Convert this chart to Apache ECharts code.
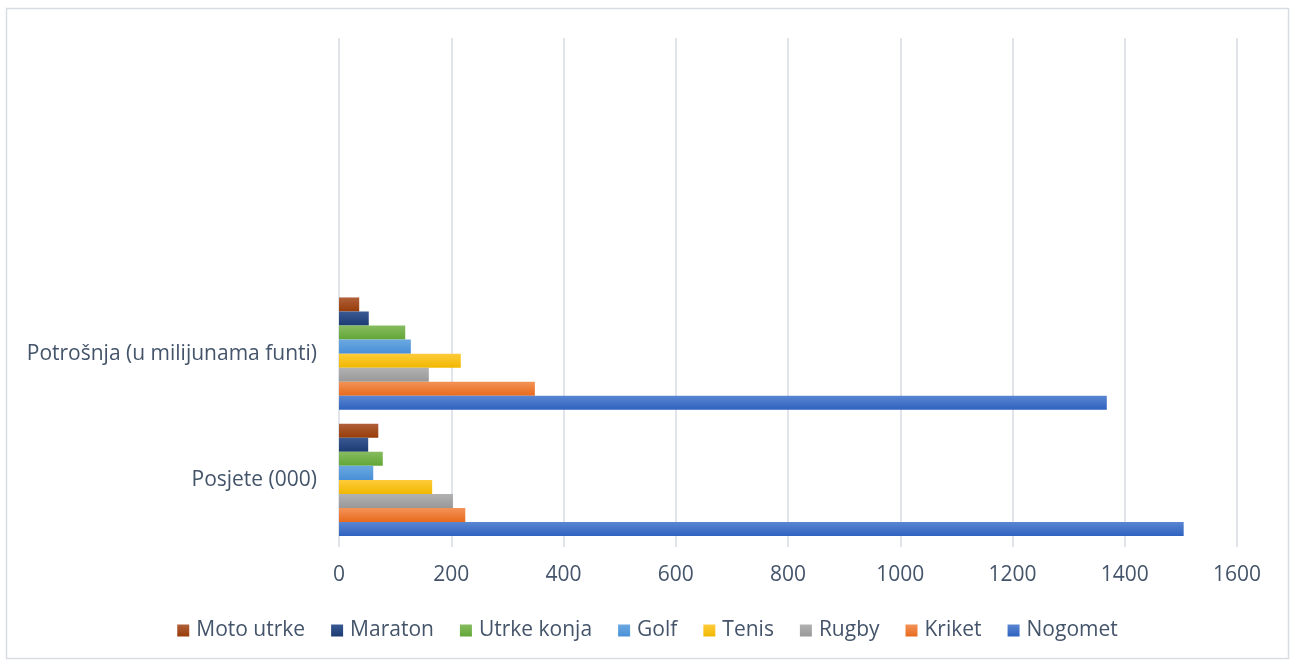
<!DOCTYPE html>
<html>
<head>
<meta charset="utf-8">
<script src="https://cdn.jsdelivr.net/npm/echarts@6/dist/echarts.min.js"></script>
<style>
html,body{margin:0;padding:0;background:#fff;}
#c{width:1295px;height:662px;}
</style>
</head>
<body>
<div id="c"></div>
<script>
// Categories (bottom to top); two empty slots at the top as in the reference
var categories = ['Posjete (000)', 'Potrošnja (u milijunama funti)', '', ' '];
// Series names (legend order, also top-to-bottom order inside each group)
var seriesNames = ['Moto utrke', 'Maraton', 'Utrke konja', 'Golf', 'Tenis', 'Rugby', 'Kriket', 'Nogomet'];
// Values per series: [Posjete, Potrošnja]
var motoUtrke = [70, 36];
var maraton = [52, 53];
var utrkeKonja = [78, 118];
var golf = [61, 128];
var tenis = [166, 217];
var rugby = [203, 160];
var kriket = [225, 349];
var nogomet = [1505, 1368];
var xTicks = {min: 0, max: 1600, interval: 200};

var colorsTop = {
  'Moto utrke': '#b0603a', 'Maraton': '#3a5a94', 'Utrke konja': '#86bc60', 'Golf': '#6aa8e0',
  'Tenis': '#ffcb3a', 'Rugby': '#b2b2b2', 'Kriket': '#f39358', 'Nogomet': '#5a86d2'
};
var colorsBot = {
  'Moto utrke': '#973c08', 'Maraton': '#1c3a72', 'Utrke konja': '#62a636', 'Golf': '#4a90d8',
  'Tenis': '#f0b800', 'Rugby': '#989898', 'Kriket': '#e86a1c', 'Nogomet': '#2f62bf'
};
var valuesByName = {
  'Moto utrke': motoUtrke, 'Maraton': maraton, 'Utrke konja': utrkeKonja, 'Golf': golf,
  'Tenis': tenis, 'Rugby': rugby, 'Kriket': kriket, 'Nogomet': nogomet
};

var textColor = '#44546a';
var gridColor = '#e1e4ea';
var font = 'Open Sans';

var series = seriesNames.map(function (name) {
  return {
    name: name,
    type: 'bar',
    data: valuesByName[name],
    barGap: '0%',
    barCategoryGap: '11%',
    itemStyle: {
      color: new echarts.graphic.LinearGradient(0, 0, 0, 1, [
        {offset: 0, color: colorsTop[name]},
        {offset: 1, color: colorsBot[name]}
      ])
    }
  };
});

var chart = echarts.init(document.getElementById('c'), null, {renderer: 'canvas'});
chart.setOption({
  animation: false,
  backgroundColor: '#fff',
  graphic: [{
    type: 'rect',
    shape: {x: 6.5, y: 8.5, width: 1282, height: 650},
    style: {fill: 'none', stroke: '#d9dde3', lineWidth: 1.5},
    silent: true
  }],
  grid: {left: 339, right: 58, top: 38, bottom: 119, containLabel: false},
  legend: {
    data: seriesNames,
    bottom: 16,
    left: 'center',
    icon: 'rect',
    itemWidth: 12,
    itemHeight: 12,
    itemGap: 26,
    textStyle: {color: textColor, fontSize: 21, fontFamily: font, padding: [0, 0, 0, 2]}
  },
  xAxis: {
    type: 'value',
    min: xTicks.min, max: xTicks.max, interval: xTicks.interval,
    axisLine: {show: false},
    axisTick: {show: true, length: 4, lineStyle: {color: gridColor, width: 2}},
    axisLabel: {color: textColor, fontSize: 21, fontFamily: font, margin: 22, formatter: function (v) { return String(v); }},
    splitLine: {show: true, lineStyle: {color: gridColor, width: 2}}
  },
  yAxis: {
    type: 'category',
    data: categories,
    axisLine: {show: false},
    axisTick: {show: false},
    axisLabel: {color: textColor, fontSize: 21, fontFamily: font, margin: 22},
    splitLine: {show: false}
  },
  series: series
});
</script>
</body>
</html>
